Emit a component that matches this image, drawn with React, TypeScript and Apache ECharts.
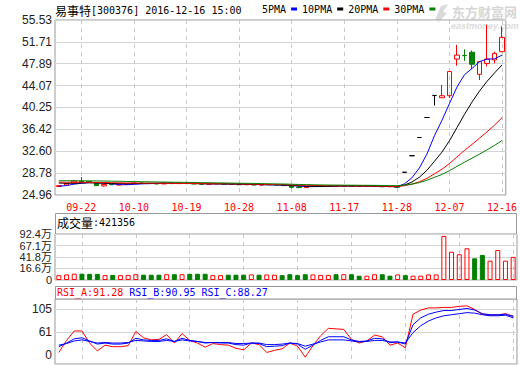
import React, { useEffect, useRef } from "react";
import * as echarts from "echarts";

const dates = [
  "09-19", "09-20", "09-21", "09-22", "09-23", "09-26", "09-27", "09-28", "09-29", "09-30",
  "10-10", "10-11", "10-12", "10-13", "10-14", "10-17", "10-18", "10-19", "10-20", "10-21",
  "10-24", "10-25", "10-26", "10-27", "10-28", "10-31", "11-01", "11-02", "11-03", "11-04",
  "11-07", "11-08", "11-09", "11-10", "11-11", "11-14", "11-15", "11-16", "11-17", "11-18",
  "11-21", "11-22", "11-23", "11-24", "11-25", "11-28", "11-29", "11-30", "12-01", "12-02",
  "12-05", "12-06", "12-07", "12-08", "12-09", "12-12", "12-13", "12-14", "12-15", "12-16",
];

const opens = [
  26.45, 26.7, 27.05, 27.35, 27.3, 27.0, 26.55, 26.85, 26.7, 26.8,
  26.95, 27.05, 27.0, 26.95, 26.9, 27.05, 26.95, 27.05, 26.95, 26.9,
  26.85, 26.9, 26.95, 26.85, 26.8, 26.75, 26.8, 26.7, 26.75, 26.8,
  26.7, 26.6, 26.35, 26.25, 26.45, 26.55, 26.6, 26.55, 26.6, 26.5,
  26.45, 26.55, 26.6, 26.5, 26.4, 26.45,
  28.93, 31.82, 35.0, 38.5, 42.35, 41.95, 42.3, 48.7, 49.35, 49.9, 46.05, 47.95, 48.55, 50.0,
];
const closes = [
  26.6, 26.95, 27.4, 27.2, 27.15, 26.6, 26.8, 26.75, 26.8, 26.95,
  27.05, 27.0, 26.95, 26.9, 27.05, 26.95, 27.05, 26.95, 26.9, 26.85,
  26.9, 26.95, 26.85, 26.8, 26.75, 26.8, 26.7, 26.75, 26.8, 26.7,
  26.6, 26.3, 26.25, 26.45, 26.55, 26.6, 26.55, 26.6, 26.5, 26.45,
  26.55, 26.6, 26.5, 26.4, 26.45, 26.3,
  28.93, 31.82, 35.0, 38.5, 42.35, 42.3, 46.53, 49.4, 49.3, 47.8, 48.25, 48.7, 49.7, 52.5,
];
const lows = [
  26.4, 26.65, 27.0, 27.1, 27.1, 26.55, 26.45, 26.7, 26.65, 26.75,
  26.9, 26.95, 26.9, 26.85, 26.85, 26.9, 26.9, 26.9, 26.85, 26.8,
  26.8, 26.85, 26.8, 26.75, 26.7, 26.7, 26.65, 26.65, 26.7, 26.65,
  26.55, 26.1, 26.15, 26.2, 26.4, 26.5, 26.5, 26.5, 26.45, 26.4,
  26.4, 26.5, 26.45, 26.35, 26.35, 26.25,
  28.93, 31.82, 35.0, 38.5, 40.6, 41.9, 41.9, 47.55, 48.4, 47.0, 45.05, 47.4, 47.95, 49.9,
];
const highs = [
  26.65, 27.0, 27.6, 28.1, 27.4, 27.05, 26.85, 26.9, 26.85, 27.0,
  27.1, 27.1, 27.05, 27.0, 27.1, 27.1, 27.1, 27.1, 27.0, 26.95,
  26.95, 27.0, 27.0, 26.9, 26.85, 26.85, 26.85, 26.8, 26.85, 26.85,
  26.75, 26.65, 26.4, 26.5, 26.6, 26.65, 26.65, 26.65, 26.65, 26.55,
  26.6, 26.65, 26.65, 26.55, 26.5, 26.5,
  28.93, 31.82, 35.0, 38.5, 42.35, 44.2, 46.53, 51.18, 50.4, 50.2, 48.3, 54.7, 50.0, 54.4,
];

// volume in 万
const volumes = [
  1.9, 3.5, 5.2, 5.2, 4.8, 4.8, 2.0, 2.5, 2.0, 2.5,
  4.0, 3.0, 3.0, 3.0, 4.0, 4.0, 4.0, 5.0, 5.0, 5.0,
  2.0, 2.0, 3.0, 3.0, 3.0, 3.5, 3.0, 3.5, 3.0, 2.0,
  4.0, 2.0, 4.0, 3.5, 2.5, 2.5, 4.0, 4.0, 4.0, 0.8,
  0.8, 4.0, 4.0, 0.8, 3.5, 2.0,
  0.8, 0.8, 3.5, 3.5, 88, 53.5, 47.8, 61, 39, 46.3, 33.8, 57.3, 33.8, 42.1356,
];

const ma5 = [
  26.5, 26.6, 26.85, 27.0, 27.15, 27.12, 27.05, 26.92, 26.78, 26.75,
  26.82, 26.9, 26.95, 27.0, 27.02, 27.03, 27.01, 26.99, 26.98, 26.95,
  26.92, 26.9, 26.9, 26.88, 26.87, 26.83, 26.8, 26.77, 26.75, 26.73,
  26.69, 26.6, 26.52, 26.45, 26.43, 26.44, 26.49, 26.53, 26.54, 26.55,
  26.54, 26.51, 26.5, 26.48, 26.44, 26.39,
  26.9, 27.96, 29.68, 32.11, 35.32, 37.99, 40.93, 43.81, 45.97, 47.06, 48.25, 48.69, 48.75, 49.39,
];
const ma10 = [
  27.05, 27.0, 27.02, 27.05, 27.08, 27.06, 27.02, 26.98, 26.95, 26.93,
  26.95, 26.97, 26.98, 27.0, 27.0, 27.0, 26.98, 26.97, 26.95, 26.93,
  26.92, 26.92, 26.9, 26.88, 26.86, 26.84, 26.81, 26.78, 26.76, 26.73,
  26.7, 26.63, 26.56, 26.5, 26.47, 26.45, 26.46, 26.5, 26.52, 26.53,
  26.53, 26.52, 26.5, 26.48, 26.45, 26.42,
  26.68, 27.22, 28.07, 29.27, 30.85, 32.44, 34.44, 36.74, 39.04, 41.19, 43.12, 44.81, 46.28, 47.68,
];
const ma20 = [
  27.2, 27.2, 27.18, 27.18, 27.17, 27.15, 27.13, 27.1, 27.08, 27.06,
  27.05, 27.04, 27.03, 27.02, 27.0, 26.99, 26.98, 26.97, 26.96, 26.95,
  26.94, 26.93, 26.92, 26.9, 26.89, 26.87, 26.85, 26.83, 26.81, 26.79,
  26.76, 26.72, 26.69, 26.66, 26.63, 26.6, 26.58, 26.56, 26.55, 26.54,
  26.53, 26.52, 26.51, 26.5, 26.48, 26.46,
  26.58, 26.85, 27.27, 27.87, 28.66, 29.46, 30.45, 31.6, 32.74, 33.8, 34.88, 36.0, 37.16, 38.47,
];
const ma30 = [
  27.45, 27.45, 27.44, 27.44, 27.43, 27.42, 27.4, 27.38, 27.36, 27.33,
  27.3, 27.28, 27.26, 27.24, 27.22, 27.2, 27.18, 27.16, 27.14, 27.12,
  27.1, 27.08, 27.06, 27.04, 27.02, 27.0, 26.98, 26.95, 26.92, 26.9,
  26.88, 26.84, 26.8, 26.77, 26.74, 26.72, 26.7, 26.69, 26.68, 26.67,
  26.66, 26.65, 26.64, 26.63, 26.61, 26.6,
  26.68, 26.86, 27.13, 27.53, 28.05, 28.55, 29.2, 29.96, 30.68, 31.4, 32.1, 32.84, 33.62, 34.48,
];

const rsiA = [
  22, 45, 63, 63, 40, 25, 36, 33, 33, 35,
  62, 50, 46, 47, 56, 40, 58, 45, 40, 32,
  39, 37, 36, 30, 27, 40, 37, 22, 26, 29,
  40, 34, 13, 35, 54, 68, 67, 66, 47, 40,
  44, 55, 52, 36, 40, 31,
  95, 103, 107, 107, 108, 108, 110, 111, 104, 95, 93.5, 93.5, 96, 91.28,
];
const rsiB = [
  33, 40, 48, 50, 44, 38, 40, 38, 38, 40,
  49, 46, 45, 45, 48, 43, 49, 45, 43, 40,
  41, 40, 40, 37, 36, 40, 39, 33, 34, 35,
  40, 38, 28, 36, 45, 52, 52, 52, 46, 43,
  44, 49, 48, 41, 42, 38,
  75, 88, 95, 99, 102, 102, 104, 106, 103, 96, 94, 94, 95, 90.95,
];
const rsiC = [
  36, 39, 44, 46, 43, 40, 41, 40, 40, 41,
  45, 44, 43, 43, 45, 43, 46, 44, 43, 41,
  41, 41, 41, 39, 39, 40, 40, 37, 37, 38,
  40, 39, 34, 38, 42, 46, 46, 46, 44, 42,
  43, 45, 45, 42, 42, 40,
  60, 73, 82, 88, 92, 94, 96, 98, 97, 94, 92, 92, 93, 88.27,
];

const priceTicks = [24.96, 28.78, 32.6, 36.42, 40.25, 44.07, 47.89, 51.71, 55.53];
const volMin = -8.67;
const volMax = 92.4;
const volTicksA = [volMin, 41.8, 92.4];
const volTicksB = [16.6, 67.1];
const volTicksAll = [volMin, 16.6, 41.8, 67.1, 92.4];
const rsiTicks = [0, 61, 105];

const MONO = '"DejaVu Sans Mono", "Liberation Mono", monospace';
const CJK = '"Noto Sans CJK SC", sans-serif';
const SANS = '"Liberation Sans", "Noto Sans CJK SC", sans-serif';
const RED = "#ff0000";
const GREEN = "#008000";
const BLUE = "#0000ff";

const labelEvery = (i: number) => i % 7 === 3;

export default function App() {
  const ref = useRef<HTMLDivElement>(null);
  useEffect(() => {
    const chart = echarts.init(ref.current!, null, { renderer: "svg" });

    const candleData = dates.map((_, i) => {
      const o = opens[i], c = closes[i];
      const item: any = { value: [o, c, lows[i], highs[i]] };
      if (o === c) {
        item.itemStyle = { color: "#000", color0: "#000", borderColor: "#000", borderColor0: "#000" };
      }
      return item;
    });
    const volData = dates.map((_, i) => {
      const up = closes[i] >= opens[i];
      return {
        value: volumes[i],
        itemStyle: up
          ? { color: "rgba(255,255,255,0)", borderColor: RED, borderWidth: 1 }
          : { color: GREEN, borderColor: GREEN, borderWidth: 1 },
      };
    });

    const grids = [
      { left: 55, top: 20, width: 462, height: 175 },
      { left: 55, top: 234, width: 462, height: 46 },
      { left: 55, top: 299, width: 462, height: 65 },
    ].map((g) => ({ ...g, show: true, borderColor: "#999", borderWidth: 1, backgroundColor: "transparent" }));

    const xAxes = [0, 1, 2].map((gi) => ({
      type: "category",
      gridIndex: gi,
      data: dates,
      boundaryGap: true,
      axisLine: { show: false },
      axisTick: { show: false, interval: labelEvery, alignWithLabel: true },
      axisLabel: {
        show: gi === 0,
        interval: labelEvery,
        color: RED,
        fontSize: 10,
        fontFamily: MONO,
        margin: 7,
        hideOverlap: false,
      },
      splitLine: {
        show: true,
        interval: labelEvery,
        alignWithLabel: true,
        lineStyle: { type: [4, 4], color: "#c8c8c8", width: 1 },
      },
    }));

    const yLabel = {
      color: "#222",
      fontSize: 12,
      fontFamily: SANS,
      margin: 3,
      hideOverlap: false,
      showMinLabel: true,
      showMaxLabel: true,
    };
    const volLabel = { ...yLabel, fontSize: 11, lineHeight: 11 };
    const volFmt = (v: number) => (v < 0 ? "0" : v.toFixed(1) + "万");
    const yAxes = [
      {
        type: "value",
        gridIndex: 0,
        min: 24.96,
        max: 55.53,
        axisLine: { show: false },
        axisTick: { show: false, customValues: priceTicks },
        axisLabel: { ...yLabel, customValues: priceTicks, formatter: (v: number) => v.toFixed(2) },
        splitLine: { show: true, lineStyle: { color: "#d4d4d4", width: 1 } },
      },
      {
        type: "value",
        gridIndex: 1,
        min: volMin,
        max: volMax,
        startValue: volMin,
        axisLine: { show: false },
        axisTick: { show: false, customValues: volTicksAll },
        axisLabel: { ...volLabel, customValues: volTicksA, formatter: volFmt },
        splitLine: { show: true, lineStyle: { color: "#d4d4d4", width: 1 } },
      },
      {
        type: "value",
        gridIndex: 2,
        min: 0,
        max: 124,
        axisLine: { show: false },
        axisTick: { show: false, customValues: rsiTicks },
        axisLabel: {
          ...yLabel,
          customValues: rsiTicks,
          formatter: (v: number) => (v === 0 ? "{z|0}" : String(v)),
          rich: { z: { fontSize: 12, fontFamily: SANS, color: "#222", padding: [0, 0, 18, 0] } },
        },
        splitLine: { show: true, lineStyle: { color: "#d4d4d4", width: 1 } },
      },
      {
        type: "value",
        gridIndex: 1,
        position: "left",
        offset: 0,
        min: volMin,
        max: volMax,
        axisLine: { show: false },
        axisTick: { show: false, customValues: volTicksB },
        axisLabel: { ...volLabel, customValues: volTicksB, formatter: volFmt },
        splitLine: { show: false },
      },
    ];

    const maLine = (name: string, data: number[], color: string) => ({
      name,
      type: "line",
      xAxisIndex: 0,
      yAxisIndex: 0,
      data,
      symbol: "none",
      showSymbol: false,
      lineStyle: { color, width: 1 },
      itemStyle: { color },
      z: 3,
    });
    const rsiLine = (name: string, data: number[], color: string) => ({
      name,
      type: "line",
      xAxisIndex: 2,
      yAxisIndex: 2,
      data,
      symbol: "none",
      showSymbol: false,
      lineStyle: { color, width: 1 },
      z: 3,
    });

    const option: any = {
      animation: false,
      backgroundColor: "#fff",
      legend: {
        left: 262,
        top: 4,
        data: ["5PMA", "10PMA", "20PMA", "30PMA"],
        align: "right",
        icon: "rect",
        itemWidth: 6,
        itemHeight: 3,
        itemGap: 5,
        selectedMode: false,
        padding: 0,
        textStyle: { fontSize: 10, fontFamily: MONO, color: "#000" },
      },
      grid: grids,
      xAxis: xAxes,
      yAxis: yAxes,
      graphic: [
        {
          type: "text",
          x: 452,
          y: 5,
          z: -1,
          style: { text: "东方财富网", font: `bold 13px ${CJK}`, fill: "#d6d6d6" },
        },
        {
          type: "text",
          x: 451,
          y: 21,
          z: -1,
          style: { text: "eastmoney.com", font: `italic bold 9px ${SANS}`, fill: "#dcdcdc" },
        },
        {
          type: "polygon",
          z: -1,
          shape: { points: [[435, 20], [441, 6], [448, 4], [443, 12], [447, 13], [439, 22]] },
          style: { fill: "#dadada" },
        },
        {
          type: "text",
          x: 55,
          y: 4,
          style: {
            text: "{c|易事特}{m|[300376] 2016-12-16 15:00}",
            rich: {
              c: { font: `12px ${CJK}`, fill: "#000" },
              m: { font: `10px ${MONO}`, fill: "#000" },
            },
          },
        },
        {
          type: "rect",
          shape: { x: 55.5, y: 213.5, width: 461, height: 20.5 },
          style: { fill: "#fff", stroke: "#999", lineWidth: 1 },
        },
        {
          type: "text",
          x: 57,
          y: 216,
          style: {
            text: "{c|成交量}{m|:421356}",
            rich: {
              c: { font: `12px ${CJK}`, fill: "#000" },
              m: { font: `10px ${MONO}`, fill: "#000" },
            },
          },
        },
        {
          type: "rect",
          shape: { x: 55.5, y: 286.5, width: 461, height: 12.5 },
          style: { fill: "#fff", stroke: "#999", lineWidth: 1 },
        },
        {
          type: "text",
          x: 57,
          y: 287,
          style: {
            text: "{a|RSI_A:91.28} {b|RSI_B:90.95} {c|RSI_C:88.27}",
            font: `10px ${MONO}`,
            rich: {
              a: { fill: RED, font: `10px ${MONO}` },
              b: { fill: BLUE, font: `10px ${MONO}` },
              c: { fill: BLUE, font: `10px ${MONO}` },
            },
          },
        },
      ],
      series: [
        {
          name: "K",
          type: "candlestick",
          xAxisIndex: 0,
          yAxisIndex: 0,
          data: candleData,
          barWidth: 5,
          itemStyle: {
            color: "rgba(255,255,255,0)",
            color0: GREEN,
            borderColor: RED,
            borderColor0: GREEN,
            borderWidth: 1,
          },
          z: 2,
        },
        maLine("5PMA", ma5, BLUE),
        maLine("10PMA", ma10, "#000000"),
        maLine("20PMA", ma20, RED),
        maLine("30PMA", ma30, GREEN),
        {
          name: "VOL",
          type: "bar",
          xAxisIndex: 1,
          yAxisIndex: 1,
          data: volData,
          barWidth: 5,
        },
        rsiLine("RSI_A", rsiA, RED),
        rsiLine("RSI_B", rsiB, BLUE),
        rsiLine("RSI_C", rsiC, BLUE),
      ],
    };

    chart.setOption(option);
    return () => chart.dispose();
  }, []);

  return (
    <div
      ref={ref}
      style={{ position: "absolute", left: 0, top: 0, width: 520, height: 365 }}
    />
  );
}
